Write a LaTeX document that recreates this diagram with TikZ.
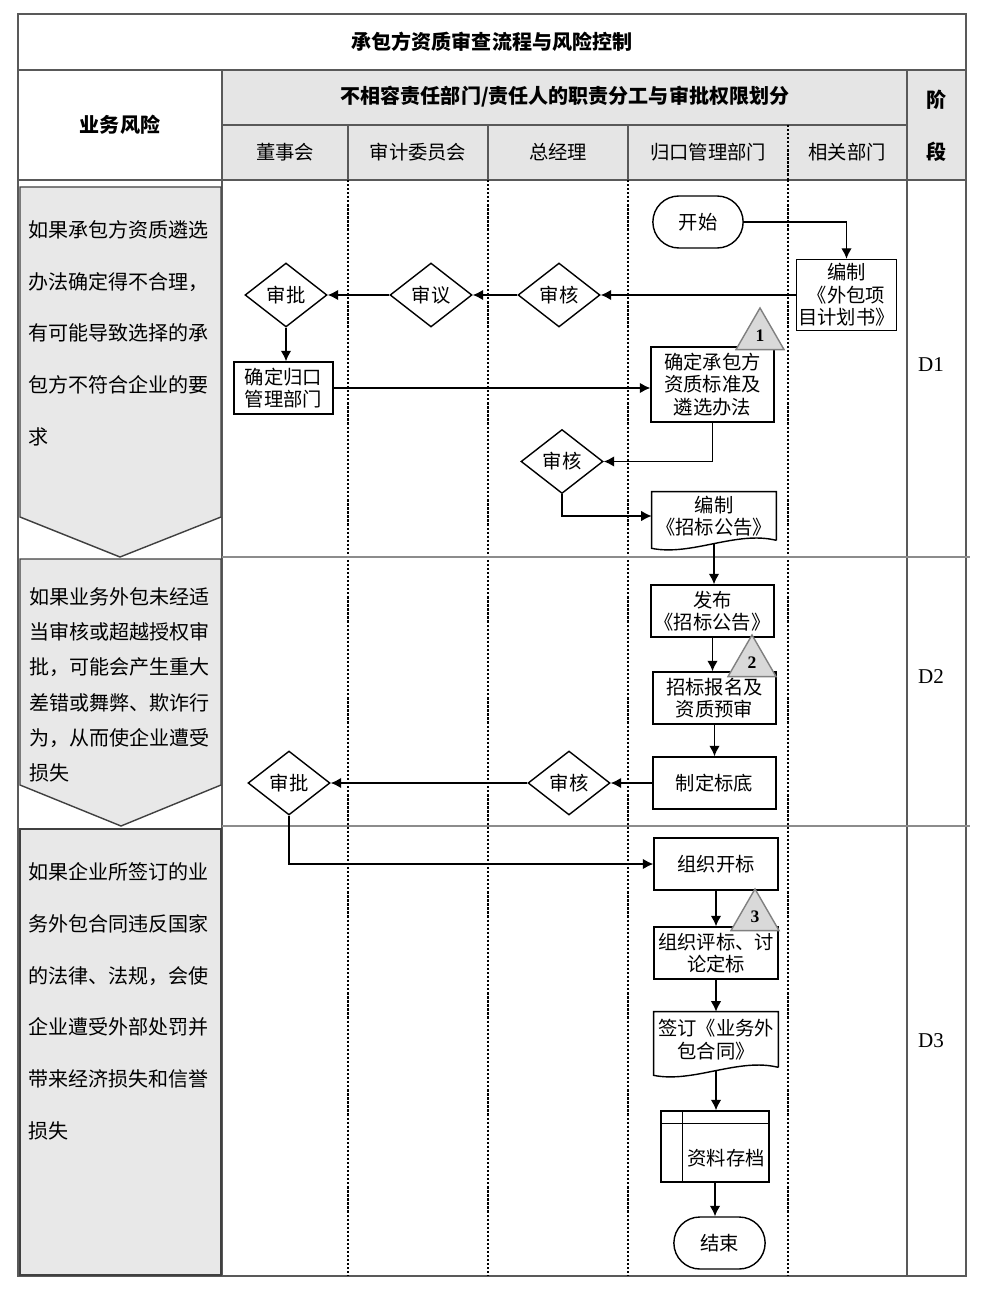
\documentclass[tikz,border=0pt]{standalone}
\usepackage{fontspec}
\setmainfont{Noto Sans CJK SC}
\newfontfamily\tnr{Liberation Serif}
\usetikzlibrary{shapes,arrows,arrows.meta}

\begin{document}
\begin{tikzpicture}[x=0.02cm, y=-0.02cm, font=\fontsize{11pt}{12.8pt}\selectfont]
        % Define block styles
        \tikzstyle{proc} = [rectangle, draw, thick, minimum width=2.46cm,
            minimum height=1.04cm, align=center, inner sep=1pt]
        \tikzstyle{doc} = [rectangle, minimum width=2.48cm, minimum height=0.96cm,
            align=center, inner sep=1pt]
        \tikzstyle{decide} = [diamond, draw, thick, minimum width=1.64cm,
            minimum height=1.28cm, inner sep=0pt]
        \tikzstyle{term} = [rounded rectangle, draw, thick, minimum width=2.04cm,
            minimum height=1.04cm]
        \tikzstyle{risk} = [regular polygon, regular polygon sides=3, draw=gray,
            fill=black!15, thick, minimum size=1.11cm, inner sep=0pt,
            font=\tnr\bfseries\fontsize{10pt}{10pt}\selectfont]
        \tikzstyle{riskbox} = [draw=black!75, thick, fill=black!9]
        \tikzstyle{risktext} = [anchor=north west, align=left, inner sep=0pt]
        \tikzstyle{head} = [font=\bfseries\fontsize{11.4pt}{12pt}\selectfont]
        \tikzstyle{grid} = [draw=black!65, line width=1.2pt]
        \tikzstyle{sep} = [densely dotted, line width=1.3pt]
        \tikzstyle{line} = [draw, thick, -{Latex[length=6pt, width=6pt]}]

        \useasboundingbox (0,0) rectangle (987,1290);

        % Header
        \fill[black!10] (223,70) rectangle (966,180);
        \draw[grid] (18,14) rectangle (966,1276);
        \draw[grid] (18,70) -- (966,70);
        \draw[grid] (18,180) -- (966,180);
        \draw[grid] (222,70) -- (222,1276);
        \draw[grid] (907,70) -- (907,1276);
        \draw[grid] (222,125) -- (907,125);
        \draw[grid] (348,125) -- (348,180);
        \draw[grid] (488,125) -- (488,180);
        \draw[grid] (628,125) -- (628,180);
        \draw[sep] (788,125) -- (788,180);

        \node[head] (title) at (492,42) {承包方资质审查流程与风险控制};
        \node[head] (riskhead) at (120,125) {业务风险};
        \node[head] (duty) at (565,97) {不相容责任部门/责任人的职责分工与审批权限划分};
        \node[head, align=center, font=\bfseries\fontsize{11.4pt}{29.5pt}\selectfont] (phasehead) at (936,126) {阶\\段};
        \node (board) at (285,152) {董事会};
        \node (audit) at (418,152) {审计委员会};
        \node (gm) at (558,152) {总经理};
        \node (mgr) at (708,152) {归口管理部门};
        \node (related) at (847,152) {相关部门};

        % Lanes and phases
        \draw[sep] (348,180) -- (348,1276);
        \draw[sep] (488,180) -- (488,1276);
        \draw[sep] (628,180) -- (628,1276);
        \draw[sep] (788,180) -- (788,1276);
        \draw[draw=black!45, line width=1.2pt] (222,557) -- (970,557);
        \draw[draw=black!45, line width=1.2pt] (222,826) -- (970,826);
        \node[font=\tnr\fontsize{12pt}{12pt}\selectfont] (d1) at (931,365) {D1};
        \node[font=\tnr\fontsize{12pt}{12pt}\selectfont] (d2) at (931,677) {D2};
        \node[font=\tnr\fontsize{12pt}{12pt}\selectfont] (d3) at (931,1041) {D3};

        % Risks
        \draw[riskbox] (20,187) -- (221,187) -- (221,517) -- (120,557) -- (20,517) -- cycle;
        \draw[riskbox] (20,559) -- (221,559) -- (221,785) -- (121,826) -- (20,785) -- cycle;
        \draw[riskbox] (20,829) rectangle (221,1275);
        \node[risktext, font=\fontsize{11.4pt}{29.5pt}\selectfont] (risk1) at (28,220)
            {如果承包方资质遴选\\办法确定得不合理，\\有可能导致选择的承\\包方不符合企业的要\\求};
        \node[risktext, font=\fontsize{11.4pt}{20.1pt}\selectfont] (risk2) at (29,587)
            {如果业务外包未经适\\当审核或超越授权审\\批，可能会产生重大\\差错或舞弊、欺诈行\\为，从而使企业遭受\\损失};
        \node[risktext, font=\fontsize{11.4pt}{29.5pt}\selectfont] (risk3) at (28,862)
            {如果企业所签订的业\\务外包合同违反国家\\的法律、法规，会使\\企业遭受外部处罚并\\带来经济损失和信誉\\损失};

        % Nodes
        \node[term] (start) at (698,222) {开始};
        \node[proc, minimum width=1.98cm, minimum height=1.42cm] (plan) at (846.5,295) {编制\\《外包项\\目计划书》};
        \node[decide] (check1) at (559,295) {审核};
        \node[decide] (discuss) at (431,295) {审议};
        \node[decide] (approve1) at (286,295) {审批};
        \node[proc, minimum width=1.98cm] (dept) at (283.5,388) {确定归口\\管理部门};
        \node[proc, minimum height=1.5cm] (std) at (712.5,384.5) {确定承包方\\资质标准及\\遴选办法};
        \node[risk] (tri1) at (760,335.7) {1};
        \node[decide] (check2) at (562,461.5) {审核};
        \node[doc] (notice) at (714,516) {编制\\《招标公告》};
        \draw[thick] (notice.south east) -- (notice.north east) -- (notice.north west)
            -- ([yshift=-0.16cm]notice.south west) .. controls +(40,8) and +(-40,-10) .. (notice.south east);
        \node[proc] (publish) at (712.5,611) {发布\\《招标公告》};
        \node[proc] (signup) at (714.5,698) {招标报名及\\资质预审};
        \node[risk] (tri2) at (752,662.7) {2};
        \node[proc] (base) at (714.5,783) {制定标底};
        \node[decide] (check3) at (569,783) {审核};
        \node[decide] (approve2) at (289,783) {审批};
        \node[proc, minimum width=2.48cm] (open) at (716,864) {组织开标};
        \node[proc, minimum width=2.48cm] (eval) at (716,953) {组织评标、讨\\论定标};
        \node[risk] (tri3) at (755,916.7) {3};
        \node[doc, minimum height=1.1cm] (contract) at (716,1039.5) {签订《业务外\\包合同》};
        \draw[thick] (contract.south east) -- (contract.north east) -- (contract.north west)
            -- ([yshift=-0.16cm]contract.south west) .. controls +(40,8) and +(-40,-10) .. (contract.south east);
        \node[proc, minimum width=2.16cm, minimum height=1.42cm] (archive) at (715,1146.5) {};
        \draw[thick] ([yshift=-0.26cm]archive.north west) -- ([yshift=-0.26cm]archive.north east);
        \draw[thick] ([xshift=0.44cm]archive.north west) -- ([xshift=0.44cm]archive.south west);
        \node (archivetext) at (726,1158) {资料存档};
        \node[term, minimum width=2.06cm] (end) at (719.5,1243) {结束};

        % Arrows
        \path[line] (start.east) -| (plan.north);
        \path[line] (plan.west) -- (check1.east);
        \path[line] (check1.west) -- (discuss.east);
        \path[line] (discuss.west) -- (approve1.east);
        \path[line] (approve1.south) -- (approve1.south |- dept.north);
        \path[line] (dept.east) -- (dept.east -| std.west);
        \path[line] (std.south) |- (check2.east);
        \path[line] (check2.south) |- (notice.west);
        \path[line] ([yshift=-0.06cm]notice.south) -- (notice.south |- publish.north);
        \path[line] (publish.south) -- (publish.south |- signup.north);
        \path[line] (signup.south) -- (signup.south |- base.north);
        \path[line] (base.west) -- (check3.east);
        \path[line] (check3.west) -- (approve2.east);
        \path[line] (approve2.south) |- (open.west);
        \path[line] (open.south) -- (open.south |- eval.north);
        \path[line] (eval.south) -- (eval.south |- contract.north);
        \path[line] ([yshift=-0.06cm]contract.south) -- (contract.south |- archive.north);
        \path[line] (archive.south) -- (archive.south |- end.north);
    \end{tikzpicture}
\end{document}
